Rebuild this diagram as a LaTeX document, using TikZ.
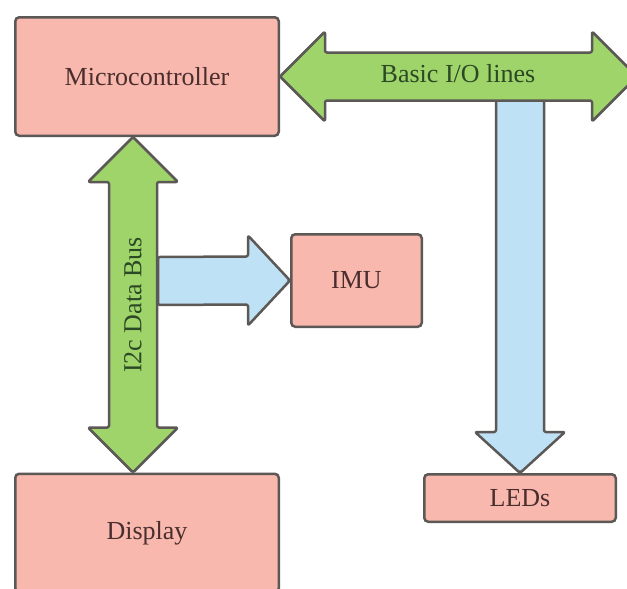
\documentclass[tikz,border=0pt]{standalone}
\usepackage{fontspec}
\setmainfont{Liberation Serif}
\usetikzlibrary{positioning}
\usetikzlibrary{calc}
\definecolor{blockpink}{RGB}{249,184,174}
\definecolor{busgreen}{RGB}{158,212,106}
\definecolor{linkblue}{RGB}{190,225,245}
\definecolor{edgegray}{RGB}{92,88,86}
\definecolor{textbrown}{RGB}{74,46,46}
\definecolor{textgreen}{RGB}{44,72,36}

\begin{document}
\begin{tikzpicture}[
	x=1pt,y=-1pt,
	line width=2.5pt,
	block/.style={draw=edgegray,fill=blockpink,rounded corners=4pt,text=textbrown,font=\fontsize{26}{30}\selectfont},
	bus/.style={draw=edgegray,fill=busgreen,rounded corners=2pt,line join=round},
	link/.style={draw=edgegray,fill=linkblue,rounded corners=2pt,line join=round},
	buslabel/.style={text=textgreen,font=\fontsize{26}{30}\selectfont}
]

	% definitions
	\def\sh{24}
	\def\hh{45}
	\def\hl{45}

	\useasboundingbox (0,0) rectangle (627,589);
	\clip (0,0) rectangle (627,589);

	% define nodes
	\node[block,minimum width=263.5,minimum height=118.5] (mcu) at (147,76.5) {Microcontroller};
	\node[block,minimum width=263.5,minimum height=118.5] (disp) at (147,533) {Display};
	\node[block,minimum width=130.5,minimum height=92.5] (imu) at (356.5,280.5) {IMU};
	\node[block,minimum width=191.5,minimum height=47.5] (leds) at (520,498) {LEDs};

	\path (mcu.south) ++(-14,0) coordinate (i2cTop);
	\path (disp.north) ++(-14,0) coordinate (i2cBot);
	\coordinate (imuTap) at (158,281);
	\coordinate (ioTap) at (520,100);
	\coordinate (ioEnd) at (637,76.5);

	% blue links
	\draw[link] ($(imuTap)+(0,-\sh)$) -- ($(imu.west)+(-\hl+3,-\sh)$) -- ($(imu.west)+(-\hl+3,-\hh)$)
		-- (imu.west) -- ($(imu.west)+(-\hl+3,\hh)$) -- ($(imu.west)+(-\hl+3,\sh)$) -- ($(imuTap)+(0,\sh)$) -- cycle;
	\draw[link] ($(ioTap)+(-\sh,0)$) -- ($(ioTap)+(\sh,0)$) -- ($(leds.north)+(\sh,-\hl+4)$) -- ($(leds.north)+(\hh,-\hl+4)$)
		-- (leds.north) -- ($(leds.north)+(-\hh,-\hl+4)$) -- ($(leds.north)+(-\sh,-\hl+4)$) -- cycle;

	% green buses
	\draw[bus] (i2cTop) -- ($(i2cTop)+(\hh,\hl)$) -- ($(i2cTop)+(\sh,\hl)$) -- ($(i2cBot)+(\sh,-\hl)$) -- ($(i2cBot)+(\hh,-\hl)$)
		-- (i2cBot) -- ($(i2cBot)+(-\hh,-\hl)$) -- ($(i2cBot)+(-\sh,-\hl)$) -- ($(i2cTop)+(-\sh,\hl)$) -- ($(i2cTop)+(-\hh,\hl)$) -- cycle;
	\draw[bus] (mcu.east) -- ($(mcu.east)+(\hl,-\hh)$) -- ($(mcu.east)+(\hl,-\sh)$) -- ($(ioEnd)+(-\hl,-\sh)$) -- ($(ioEnd)+(-\hl,-\hh)$)
		-- (ioEnd) -- ($(ioEnd)+(-\hl,\hh)$) -- ($(ioEnd)+(-\hl,\sh)$) -- ($(mcu.east)+(\hl,\sh)$) -- ($(mcu.east)+(\hl,\hh)$) -- cycle;

	% bus labels
	\node[buslabel] (ioLabel) at (458,74) {Basic I/O lines};
	\node[buslabel,rotate=90] (i2cLabel) at (133,305) {I2c Data Bus};

\end{tikzpicture}
\end{document}
